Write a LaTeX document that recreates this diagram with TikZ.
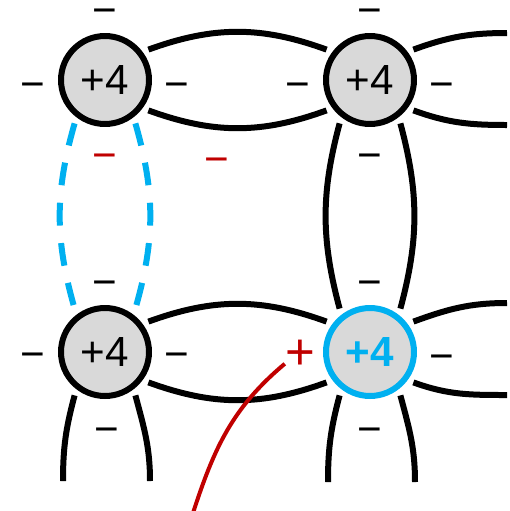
\documentclass[tikz,border=0pt]{standalone}
\usepackage{fontspec}
\setmainfont{Liberation Sans}
\usepackage{xcolor}
\definecolor{siBlue}{RGB}{0, 176, 240}
\definecolor{holeRed}{RGB}{192, 0, 0}
\definecolor{coreGray}{RGB}{217, 217, 217}

\tikzset{
    atom/.style={circle, draw=black, fill=coreGray, line width=0.12cm,
        minimum size=1.76cm, inner sep=0pt, outer sep=0.18cm,
        font=\fontsize{24}{28}\selectfont},
    hotatom/.style={atom, draw=siBlue, text=siBlue,
        font=\fontsize{24}{28}\selectfont\bfseries},
    bond/.style={line width=0.12cm, black},
    brokenbond/.style={line width=0.12cm, siBlue, dash pattern=on 13pt off 10pt},
    charge/.style={inner sep=0pt, font=\fontsize{24}{28}\selectfont},
    electron/.style={charge, yshift=-0.17cm},
    holepath/.style={line width=0.08cm, holeRed}
}

\begin{document}
\begin{tikzpicture}[x=0.02cm, y=-0.02cm]
    \useasboundingbox (0,0) rectangle (510,511);

    % the four cores
    \node[atom] (tl) at (105,80) {+4};
    \node[atom] (tr) at (370,80) {+4};
    \node[atom] (bl) at (105,352) {+4};
    \node[hotatom] (br) at (370,352) {+4};

    % bonds between neighbours
    \draw[bond] (tl.35) to[bend left=20] (tr.145);
    \draw[bond] (tl.-35) to[bend right=20] (tr.215);
    \draw[bond] (bl.35) to[bend left=20] (br.145);
    \draw[bond] (bl.-35) to[bend right=20] (br.215);
    \draw[bond] (tr.235) to[bend right=15] (br.125);
    \draw[bond] (tr.305) to[bend left=15] (br.55);
    \draw[brokenbond] (tl.235) to[bend right=16] (bl.125);
    \draw[brokenbond] (tl.305) to[bend left=16] (bl.55);

    % bonds leaving the frame
    \coordinate (trUp) at (507,33);
    \coordinate (trDn) at (507,125);
    \coordinate (brUp) at (507,303);
    \coordinate (brDn) at (507,395);
    \coordinate (blL) at (63,481);
    \coordinate (blR) at (150,481);
    \coordinate (brL) at (328,482);
    \coordinate (brR) at (415,482);
    \draw[bond] (tr.35) to[out=20, in=180] (trUp);
    \draw[bond] (tr.-35) to[out=-20, in=180] (trDn);
    \draw[bond] (br.35) to[out=20, in=180] (brUp);
    \draw[bond] (br.-35) to[out=-20, in=180] (brDn);
    \draw[bond] (bl.235) to[out=255, in=90] (blL);
    \draw[bond] (bl.305) to[out=285, in=90] (blR);
    \draw[bond] (br.235) to[out=255, in=90] (brL);
    \draw[bond] (br.305) to[out=285, in=90] (brR);

    % electrons
    \node[electron] (tlN) at (105,8) {−};
    \node[electron] (tlW) at (33,82) {−};
    \node[electron] (tlE) at (177,82) {−};
    \node[electron, holeRed] (tlS) at (105,153) {−};
    \node[electron, holeRed] (free) at (217,157) {−};
    \node[electron] (trN) at (370,8) {−};
    \node[electron] (trW) at (298,82) {−};
    \node[electron] (trE) at (442,82) {−};
    \node[electron] (trS) at (370,153) {−};
    \node[electron] (blN) at (105,280) {−};
    \node[electron] (blW) at (33,352) {−};
    \node[electron] (blE) at (177,352) {−};
    \node[electron] (blS) at (107,427) {−};
    \node[electron] (brN) at (370,280) {−};
    \node[electron] (brE) at (442,354) {−};
    \node[electron] (brS) at (370,427) {−};
    \node[electron, gray!50, font=\fontsize{14}{16}\selectfont] (edge) at (392,513) {−};

    % the hole and its path
    \node[charge, holeRed, font=\fontsize{29}{32}\selectfont] (hole) at (300,355) {+};
    \coordinate (away) at (193,513);
    \draw[holepath] (hole.210) to[out=220, in=72] (away);
\end{tikzpicture}
\end{document}
